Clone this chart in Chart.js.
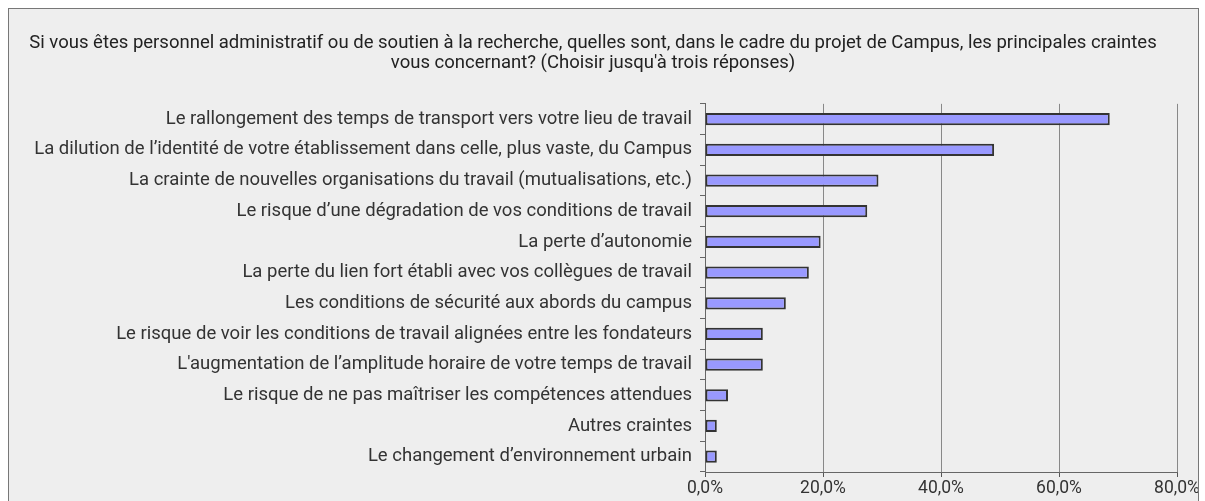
<!DOCTYPE html>
<html>
<head>
<meta charset="utf-8">
<script src="https://cdn.jsdelivr.net/npm/chart.js@4/dist/chart.umd.min.js"></script>
<style>
  body { margin: 0; background: #fff; }
  #box {
    position: absolute; left: 8px; top: 8px;
    width: 1189px; height: 500px;
    border: 1px solid #777; background: #eeeeee;
  }
  canvas { display: block; }
</style>
</head>
<body>
<div id="box"><canvas id="grafik" width="1189" height="492"></canvas></div>
<script>
const titleLines = [
    "Si vous êtes personnel administratif ou de soutien à la recherche, quelles sont, dans le cadre du projet de Campus, les principales craintes",
    "vous concernant? (Choisir jusqu'à trois réponses)"
];

const categories = [
    "Le rallongement des temps de transport vers votre lieu de travail",
    "La dilution de l’identité de votre établissement dans celle, plus vaste, du Campus",
    "La crainte de nouvelles organisations du travail (mutualisations, etc.)",
    "Le risque d’une dégradation de vos conditions de travail",
    "La perte d’autonomie",
    "La perte du lien fort établi avec vos collègues de travail",
    "Les conditions de sécurité aux abords du campus",
    "Le risque de voir les conditions de travail alignées entre les fondateurs",
    "L'augmentation de l’amplitude horaire de votre temps de travail",
    "Le risque de ne pas maîtriser les compétences attendues",
    "Autres craintes",
    "Le changement d’environnement urbain"
];

// pourcentages
const values = [68.6, 49.0, 29.4, 27.5, 19.6, 17.6, 13.7, 9.8, 9.8, 3.9, 2.0, 2.0];

const xTicks = [0, 20, 40, 60, 80];

const ctx = document.getElementById('grafik');
new Chart(ctx, {
    type: 'bar',
    data: {
        labels: categories,
        datasets: [{
            data: values,
            backgroundColor: '#9999ff',
            borderColor: '#333',
            borderWidth: 2,
            borderSkipped: false,
            barPercentage: 0.4,
            categoryPercentage: 1
        }]
    },
    options: {
        indexAxis: 'y',
        responsive: false,
        animation: false,
        layout: { padding: { left: 0, right: 21, top: 0, bottom: 0 } },
        plugins: {
            legend: { display: false },
            tooltip: { enabled: false },
            title: {
                display: true,
                text: titleLines,
                color: '#222',
                font: { family: 'Roboto', size: 18.5, weight: 'normal', lineHeight: 1.05 },
                padding: { top: 25, bottom: 31 }
            }
        },
        scales: {
            x: {
                min: xTicks[0],
                max: xTicks[xTicks.length - 1],
                afterBuildTicks: function (scale) {
                    scale.ticks = xTicks.map(v => ({ value: v }));
                },
                afterFit: function (scale) {
                    scale.height = 29;
                    scale.paddingRight = 0;
                },
                ticks: {
                    color: '#333',
                    font: { family: 'Roboto', size: 17.5 },
                    padding: 1,
                    maxRotation: 0,
                    callback: v => v.toFixed(1).replace('.', ',') + '%'
                },
                grid: { color: '#888', lineWidth: 1, tickLength: 5, tickColor: '#555' },
                border: { color: '#666', width: 1 }
            },
            y: {
                afterFit: function (scale) { scale.width = 696; },
                ticks: {
                    color: '#333',
                    font: { family: 'Roboto', size: 18.5 },
                    padding: 8,
                    autoSkip: false
                },
                grid: { drawOnChartArea: false, tickLength: 5, tickColor: '#666', offset: true },
                border: { color: '#666', width: 1 }
            }
        }
    }
});
</script>
</body>
</html>
